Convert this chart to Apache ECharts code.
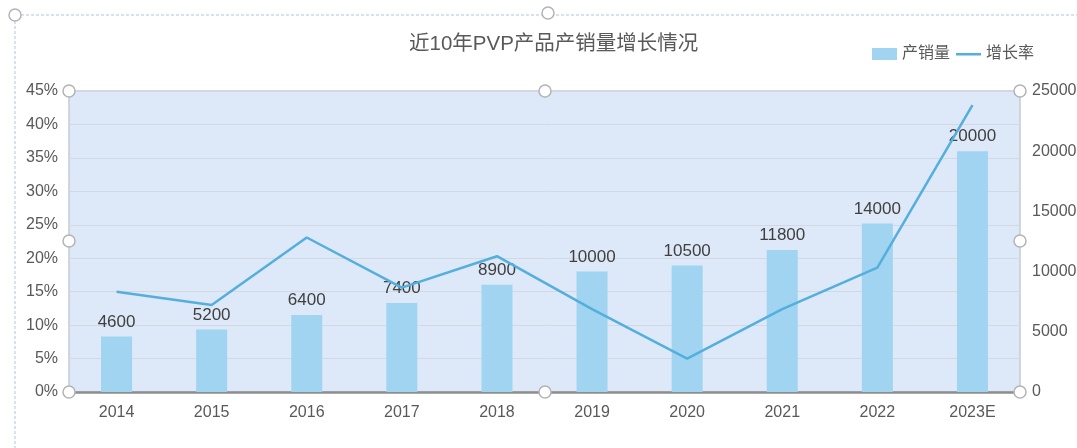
<!DOCTYPE html>
<html>
<head>
<meta charset="utf-8">
<script src="https://cdn.jsdelivr.net/npm/echarts@6/dist/echarts.min.js"></script>
<style>
html,body{margin:0;padding:0;background:#fff;}
#chart{width:1077px;height:448px;}
</style>
</head>
<body>
<div id="chart"></div>
<script>
const titleText = '近10年PVP产品产销量增长情况';
const categories = ['2014','2015','2016','2017','2018','2019','2020','2021','2022','2023E'];
const volume = [4600, 5200, 6400, 7400, 8900, 10000, 10500, 11800, 14000, 20000];
const growthRate = [15.0, 13.0, 23.1, 15.6, 20.3, 12.4, 5.0, 12.4, 18.6, 42.9];
const seriesNames = ['产销量', '增长率'];

const FONT = '"Liberation Sans", Arial, "Noto Sans CJK SC", sans-serif';
const TXT = '#595959';

const chart = echarts.init(document.getElementById('chart'));

function handle(x, y) {
  return {type:'circle', shape:{cx:x, cy:y, r:6}, z:100,
    style:{fill:'#fff', stroke:'#b4b4b4', lineWidth:1.5}};
}

chart.setOption({
  backgroundColor:'#fff',
  textStyle:{fontFamily:FONT},
  title:{
    text:titleText, left:404, top:29,
    textStyle:{fontSize:20.5, fontWeight:'normal', color:TXT, fontFamily:FONT}
  },
  legend:{
    right:38, top:41, itemWidth:25, itemHeight:12, itemGap:6,
    textStyle:{fontSize:16, color:TXT, fontFamily:FONT},
    data:[
      {name:seriesNames[0], icon:'rect'},
      {name:seriesNames[1], icon:'path://M0,0 M25,12 M0,5 L25,5 L25,7.5 L0,7.5 Z'}
    ]
  },
  grid:{
    left:69, right:57, top:91, bottom:56, show:true, outerBoundsMode:'none',
    backgroundColor:'#dde8f8', borderColor:'#c5cbd4', borderWidth:1.5
  },
  xAxis:{
    type:'category', data:categories,
    axisLine:{show:true, lineStyle:{color:'#8e8e8e', width:2.5}},
    axisTick:{show:false},
    axisLabel:{color:TXT, fontSize:16, margin:13, fontFamily:FONT}
  },
  yAxis:[
    {
      type:'value', min:0, max:45, interval:5, position:'left',
      axisLine:{show:false}, axisTick:{show:false},
      axisLabel:{color:TXT, fontSize:16, margin:11, formatter:'{value}%', fontFamily:FONT},
      splitLine:{lineStyle:{color:'#d2d9e3', width:1}}
    },
    {
      type:'value', min:0, max:25000, interval:5000, position:'right',
      axisLine:{show:false}, axisTick:{show:false},
      axisLabel:{color:TXT, fontSize:16, margin:12, fontFamily:FONT,
        formatter:function(v){ return String(v); }},
      splitLine:{show:false}
    }
  ],
  series:[
    {
      name:seriesNames[0], type:'bar', yAxisIndex:1, data:volume,
      barWidth:31,
      itemStyle:{color:'#a0d4f0'},
      label:{show:true, position:'top', color:'#404040', fontSize:17, distance:6, fontFamily:FONT}
    },
    {
      name:seriesNames[1], type:'line', yAxisIndex:0, data:growthRate,
      symbol:'none', lineStyle:{color:'#54afdc', width:2.5},
      itemStyle:{color:'#54afdc'}, z:3
    }
  ],
  graphic:[
    {type:'line', shape:{x1:21, y1:15, x2:1077, y2:15}, z:90,
      style:{stroke:'#c9d8ee', lineWidth:1.5, lineDash:[3,2]}},
    {type:'line', shape:{x1:15, y1:21, x2:15, y2:448}, z:90,
      style:{stroke:'#c9d8ee', lineWidth:1.5, lineDash:[3,2]}},
    handle(15,15), handle(548,13),
    handle(69,91), handle(545,91), handle(1020,91),
    handle(69,241), handle(1020,241),
    handle(69,392), handle(545,392), handle(1020,392)
  ]
});
</script>
</body>
</html>
